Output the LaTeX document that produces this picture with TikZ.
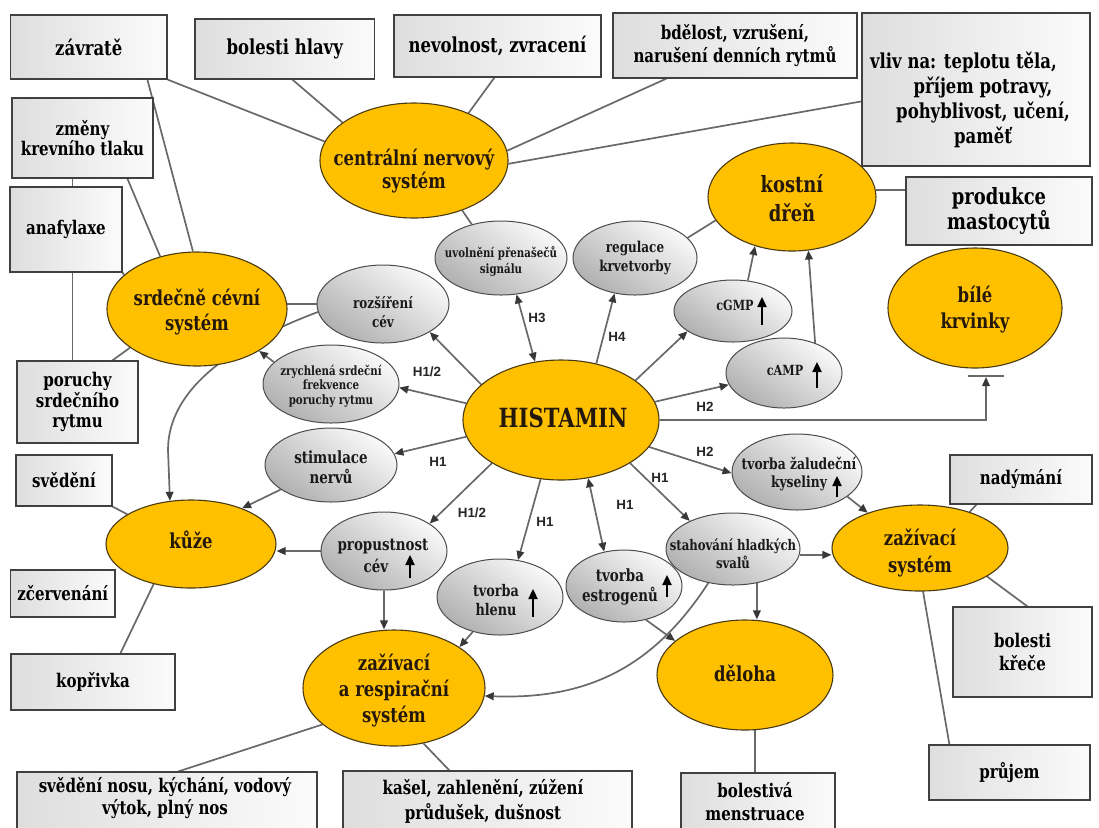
\documentclass[tikz,border=0pt]{standalone}
\usepackage{fontspec}
\setmainfont{DejaVu Serif}[FakeStretch=0.8]
\newfontfamily\labfont{Liberation Sans}
\usetikzlibrary{arrows.meta,shapes.geometric,calc}
\pgfdeclarelayer{bg}
\pgfsetlayers{bg,main}
\definecolor{gold}{HTML}{FFC000}
\definecolor{ybord}{HTML}{4A3A10}
\definecolor{lgray}{HTML}{696969}
\definecolor{headc}{HTML}{383838}
\definecolor{ytext}{HTML}{24180A}
\newcommand\fsz[2]{\fontsize{#1}{#2}\selectfont}
\newcommand\mybox[7]{\node[box,#6,minimum width={(#4-#2)*0.5pt},minimum height={(#5-#3)*0.5pt}] (#1) at ({(#2+#4)/2},{(#3+#5)/2}) {#7};}
\newcommand\myell[6]{\node[#6,minimum width=#4pt,minimum height=#5pt] (#1) at (#2,#3) {};}
\begin{document}
\begin{tikzpicture}[x=0.5pt,y=-0.5pt,
  yel/.style={ellipse,draw=ybord,line width=0.55pt,fill=gold,inner sep=0pt},
  gry/.style={ellipse,draw=black!70,line width=0.5pt,inner sep=0pt,top color=gray!4,bottom color=gray!62,shading angle=-35},
  box/.style={rectangle,draw=black!75,line width=0.6pt,inner sep=0pt,left color=gray!26,right color=gray!3,align=center,font=\rmfamily\bfseries\fsz{9.4}{11.5}},
  ytxt/.style={align=center,text=ytext,font=\rmfamily\bfseries\fsz{10.3}{13}},
  gtxt/.style={align=center,text=black!90},
  conn/.style={draw=lgray,line width=0.85pt},
  arr/.style={conn,-{Triangle[length=4.5pt,width=3.8pt,color=headc]}},
  darr/.style={conn,{Triangle[length=4.5pt,width=3.8pt,color=headc]}-{Triangle[length=4.5pt,width=3.8pt,color=headc]}},
  tbar/.style={draw=lgray,line width=1.3pt},
  hl/.style={font=\labfont\bfseries\fsz{6.7}{7},text=black!85},
  uparr/.style={line width=0.8pt,black,-{Triangle[length=5pt,width=4.6pt]}}
]
\useasboundingbox (0,0) rectangle (1099,827);
\clip (0,0) rectangle (1099,827);

% ---------- boxes ----------
\mybox{zav}{10.5}{15}{167}{79}{font=\rmfamily\bfseries\fsz{10.3}{13}}{závratě}
\mybox{bol}{195}{19}{374.5}{79}{font=\rmfamily\bfseries\fsz{10.3}{13}}{bolesti hlavy}
\mybox{nev}{394}{15}{601}{77}{font=\rmfamily\bfseries\fsz{10.3}{13}}{nevolnost, zvracení}
\mybox{bde}{613}{13}{857}{78}{}{bdělost, vzrušení,\\narušení denních rytmů}
\mybox{vli}{862}{13}{1090}{166}{}{}
\node[align=center,font=\rmfamily\bfseries\fsz{10.3}{12.5}] (vli-t) at (983,100) {\hspace*{-19.5pt}vliv na: teplotu těla,\\příjem potravy,\\pohyblivost, učení,\\paměť};
\mybox{zme}{12}{98}{153}{178}{font=\rmfamily\bfseries\fsz{9.4}{10.2}}{změny\\krevního tlaku}
\mybox{ana}{10}{187}{122}{272}{}{anafylaxe}
\mybox{por}{17}{361}{138}{443}{font=\rmfamily\bfseries\fsz{9.4}{10.3}}{poruchy\\srdečního\\rytmu}
\mybox{sve}{16}{455}{112}{506}{}{svědění}
\mybox{zce}{10.5}{570}{115}{617}{}{zčervenání}
\mybox{kop}{11}{654}{175}{710}{}{kopřivka}
\mybox{prb}{906}{177}{1092}{245}{font=\rmfamily\bfseries\fsz{11.2}{12.5}}{produkce\\mastocytů}
\mybox{nad}{950}{455}{1092}{504}{}{nadýmání}
\mybox{bkr}{953}{607}{1092}{697}{}{bolesti\\křeče}
\mybox{pru}{929}{745}{1090}{800}{}{průjem}
\mybox{svn}{17}{772}{317}{845}{}{}
\node[align=center,font=\rmfamily\bfseries\fsz{9.4}{10.6}] (svn-t) at (165,798) {svědění nosu, kýchání, vodový\\výtok, plný nos};
\mybox{kas}{343}{771}{632}{845}{}{}
\node[align=center,font=\rmfamily\bfseries\fsz{9.4}{12.5}] (kas-t) at (483,801) {kašel, zahlenění, zúžení\\průdušek, dušnost};
\mybox{bme}{681}{773}{835}{845}{}{}
\node[align=center,font=\rmfamily\bfseries\fsz{9.4}{11.5}] (bme-t) at (755,802) {bolestivá\\menstruace};

% ---------- yellow ellipses ----------
\myell{cns}{414}{160.5}{94}{57.5}{yel}
\myell{kos}{792}{197}{84}{54}{yel}
\myell{bil}{975}{308}{87}{60}{yel}
\myell{srd}{197}{309}{90}{57}{yel}
\myell{kuz}{191}{544}{85}{44}{yel}
\myell{his}{561}{420}{98}{60}{yel}
\myell{zar}{394}{688}{91}{58}{yel}
\myell{del}{745}{675}{88}{55}{yel}
\myell{zas}{920}{548}{88}{43}{yel}
\node[ytxt,font=\rmfamily\bfseries\fsz{10.3}{11.5}] (cns-t) at (414,171) {centrální nervový\\systém};
\node[ytxt,font=\rmfamily\bfseries\fsz{11.2}{14.5}] (kos-t) at (792,198) {kostní\\dřeň};
\node[ytxt] (bil-t) at (975,310) {bílé\\krvinky};
\node[ytxt,font=\rmfamily\bfseries\fsz{10.3}{12.5}] (srd-t) at (197,312) {srdečně cévní\\systém};
\node[ytxt] (kuz-t) at (191,540) {kůže};
\node[ytxt,font=\rmfamily\bfseries\fsz{13.2}{14}] (his-t) at (563,418) {HISTAMIN};
\node[ytxt] (zar-t) at (394,691) {zažívací\\a respirační\\systém};
\node[ytxt] (del-t) at (745,673) {děloha};
\node[ytxt,font=\rmfamily\bfseries\fsz{10.3}{13.5}] (zas-t) at (920,553) {zažívací\\systém};

% ---------- grey ellipses ----------
\myell{uvo}{501}{258}{66}{37}{gry}
\myell{reg}{635}{258}{62}{37}{gry}
\myell{roz}{383}{304}{66}{39}{gry}
\myell{zry}{331}{384}{68}{39}{gry}
\myell{sti}{331}{465}{66}{37}{gry}
\myell{pro}{384}{551}{63}{39}{gry}
\myell{hle}{500}{597}{63}{38}{gry}
\myell{est}{624}{586}{58}{36}{gry}
\myell{sta}{733}{549}{67}{36}{gry}
\myell{zal}{797}{472}{65}{38}{gry}
\myell{cgm}{733}{311}{59}{31}{gry}
\myell{cam}{784}{373}{58}{35}{gry}
\node[gtxt,font=\rmfamily\bfseries\fsz{6.4}{8}] (uvo-t) at (501,261) {uvolnění přenašečů\\signálu};
\node[gtxt,font=\rmfamily\bfseries\fsz{7.5}{9.5}] (reg-t) at (635,258) {regulace\\krvetvorby};
\node[gtxt,font=\rmfamily\bfseries\fsz{7.5}{9.5}] (roz-t) at (383,312) {rozšíření\\cév};
\node[gtxt,font=\rmfamily\bfseries\fsz{6.4}{7.25}] (zry-t) at (331,386) {zrychlená srdeční\\frekvence\\poruchy rytmu};
\node[gtxt,font=\rmfamily\bfseries\fsz{8.4}{10}] (sti-t) at (331,467) {stimulace\\nervů};
\node[gtxt,font=\rmfamily\bfseries\fsz{8.4}{11}] (pro-t) at (383,556) {propustnost\\cév\hspace*{7pt}};
\node[gtxt,font=\rmfamily\bfseries\fsz{8}{9.5}] (hle-t) at (496,600) {tvorba\\hlenu};
\node[gtxt,font=\rmfamily\bfseries\fsz{8.4}{10}] (est-t) at (620,587) {tvorba\\estrogenů};
\node[gtxt,font=\rmfamily\bfseries\fsz{7.3}{9}] (sta-t) at (733,554) {stahování hladkých\\svalů};
\node[gtxt,font=\rmfamily\bfseries\fsz{7.7}{9}] (zal-t) at (799,474) {tvorba žaludeční\\kyseliny};
\node[gtxt,font=\rmfamily\bfseries\fsz{7}{8}] (cgm-t) at (735,305) {cGMP};
\node[gtxt,font=\rmfamily\bfseries\fsz{7}{8}] (cam-t) at (785,370) {cAMP};

% up arrows inside ellipses
\draw[uparr] ($(pro)+(26,27)$) -- ++(0,-23);
\draw[uparr] ($(hle)+(33,20)$) -- ++(0,-28);
\draw[uparr] ($(est)+(43,11)$) -- ++(0,-22);
\draw[uparr] ($(zal)+(40,25)$) -- ++(0,-21);
\draw[uparr] ($(cgm)+(29,14)$) -- ++(0,-28);
\draw[uparr] ($(cam)+(33,15)$) -- ++(0,-26);

% receptor labels
\node[hl] (h12a) at (427,372) {H1/2};
\node[hl] (h3) at (537,318) {H3};
\node[hl] (h4) at (617,337) {H4};
\node[hl] (h2a) at (705,407) {H2};
\node[hl] (h1a) at (438,462) {H1};
\node[hl] (h12b) at (472,513) {H1/2};
\node[hl] (h1b) at (545,522) {H1};
\node[hl] (h1c) at (625,505) {H1};
\node[hl] (h1d) at (660,478) {H1};
\node[hl] (h2b) at (705,452) {H2};

\coordinate (tb) at (986,377);
\coordinate (tbl) at (968,376);
\coordinate (tbr) at (1004,376);
\coordinate (cb) at (168,450);

\begin{pgfonlayer}{bg}
% plain connectors
\draw[conn] (zav.south east) -- (cns.168);
\draw[conn] ($(zav.south west)+(137.5,0)$) -- (srd.94);
\draw[conn] ($(bol.south west)+(98,0)$) -- (cns.152);
\draw[conn] ($(nev.south west)+(101,0)$) -- (cns.41);
\draw[conn] ($(bde.south west)+(54,0)$) -- (cns.6);
\draw[conn] ($(vli.north west)+(0,89)$) -- (cns.-2);
\draw[conn] ($(zme.south west)+(116,0)$) -- (srd.125);
\draw[conn] ($(zme.south west)+(61,0)$) -- ($(ana.north west)+(63,0)$);
\draw[conn] (ana.south east) -- (srd.155);
\draw[conn] ($(ana.south west)+(63,0)$) -- ($(por.north west)+(56,0)$);
\draw[conn] ($(por.north west)+(96,0)$) -- (srd.210);
\draw[conn] (sve.south east) -- (kuz.155);
\draw[conn] (kuz.-133) -- ($(kop.north west)+(110,0)$);
\draw[conn] (srd.3) -- (srd.3 -| roz.west);
\draw[conn] (cns.-46) -- (uvo.131);
\draw[conn] (reg.21) -- (kos.-163);
\draw[conn] (kos.5) -- (kos.5 -| prb.west);
\draw[conn] (zas.36) -- ($(nad.south west)+(27,0)$);
\draw[conn] (zas.-23) -- ($(bkr.north west)+(75,0)$);
\draw[conn] (zas.-86) -- ($(pru.north west)+(21,0)$);
\draw[conn] (zar.207) -- ($(svn.north west)+(162,0)$);
\draw[conn] (zar.-62) -- ($(kas.north west)+(107,0)$);
\draw[conn] (del.-80) -- (del.-80 |- bme.north);
% arrows
\draw[arr] (roz.187) .. controls (230,345) and (168,390) .. (cb) -- (kuz.116);
\draw[arr] (cgm.64) -- (kos.-127);
\draw[arr] (cam.44) -- (kos.-73);
\draw[arr] (his.156) -- (roz.-31);
\draw[arr] (his.170) -- (zry.-3);
\draw[darr] (his.114) -- (uvo.-67);
\draw[arr] (his.58) -- (reg.-120);
\draw[arr] (his.28) -- (cgm.-156);
\draw[arr] (his.11) -- (cam.-168);
\draw[arr] (his.east) -| (tb);
\draw[tbar] (tbl) -- (tbr);
\draw[arr] (his.190) -- (sti.10);
\draw[arr] (his.212) -- (pro.31);
\draw[arr] (his.251) -- (hle.64);
\draw[darr] (his.-65) -- (est.120);
\draw[arr] (his.-32) -- (sta.147);
\draw[arr] (his.-17) -- (zal.-179);
\draw[arr] (zry.159) -- (srd.-34);
\draw[arr] (sti.206) -- (kuz.35);
\draw[arr] (pro.west) -- (pro.west -| kuz.east);
\draw[arr] (pro.south) -- (pro.south |- zar.north);
\draw[arr] (hle.232) -- (zar.32);
\draw[arr] (sta.-5) -- (sta.-5 -| zas.west);
\draw[arr] (sta.-55) -- (sta.-55 |- del.north);
\draw[arr] (est.-57) -- (del.154);
\draw[arr] (sta.234) .. controls (655,665) and (590,700) .. (zar.-5);
\draw[arr] (zal.-26) -- (zas.146);
\end{pgfonlayer}
\end{tikzpicture}
\end{document}
